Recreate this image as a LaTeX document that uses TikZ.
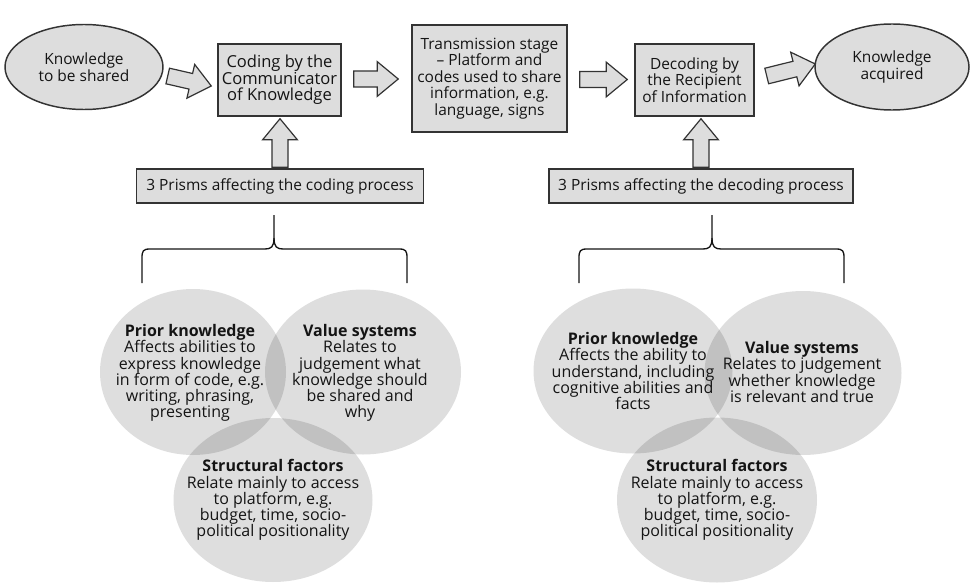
\documentclass[tikz,border=0pt]{standalone}
\usepackage{fontspec}
\setmainfont{Open Sans}
\usetikzlibrary{shapes.geometric,calc}
\definecolor{boxfill}{HTML}{DDDDDD}
\definecolor{edge}{HTML}{333333}
\definecolor{ink}{HTML}{141414}
\tikzset{
  txt/.style={font=\fontsize{11.6}{12.3}\selectfont, text=ink, align=center},
  stxt/.style={font=\fontsize{12}{12.1}\selectfont, text=ink, align=center, inner sep=0pt},
  boxnode/.style={txt, draw=edge, line width=1.1pt, fill=boxfill, rectangle, inner sep=2pt},
  ellnode/.style={txt, draw=edge, line width=1.1pt, fill=boxfill, ellipse, inner sep=0pt},
  venn/.style={ellipse, fill=black, fill opacity=0.13, draw=none, inner sep=0pt},
  barrow/.style={fill=boxfill, draw=edge, line width=0.9pt, line join=miter},
  bracepath/.style={draw=ink, line width=1pt}
}
\newcommand\blockarr[2]{%
  \coordinate (tmpc) at ($(#2)!15.75pt!(#1)$);
  \draw[barrow] ($(#1)!6pt!90:(#2)$) -- ($(tmpc)!6pt!90:(#2)$) -- ($(tmpc)!13pt!90:(#2)$) -- (#2)
    -- ($(tmpc)!13pt!-90:(#2)$) -- ($(tmpc)!6pt!-90:(#2)$) -- ($(#1)!6pt!-90:(#2)$) -- cycle;}
\begin{document}
\begin{tikzpicture}[x=0.75pt,y=-0.75pt]
\path[use as bounding box] (0,0) rectangle (970,585);

% top row
\node[ellnode, minimum width=118.5pt, minimum height=63.75pt] (k1) at (84,67) {Knowledge\\to be shared};
\node[boxnode, minimum width=92.25pt, minimum height=54pt, font=\fontsize{12.4}{12.4}\selectfont] (coding) at (279.5,80) {Coding by the\\Communicator\\of Knowledge};
\node[boxnode, minimum width=116.25pt, minimum height=80.25pt] (trans) at (489.5,78.5) {Transmission stage\\– Platform and\\codes used to share\\information, e.g.\\language, signs};
\node[boxnode, minimum width=89.25pt, minimum height=54pt] (decoding) at (694.5,80) {Decoding by\\the Recipient\\of Information};
\node[ellnode, minimum width=115.5pt, minimum height=64.5pt] (k2) at (892,67) {Knowledge\\acquired};

% prism boxes
\node[boxnode, minimum width=215.25pt, minimum height=25.5pt] (prism1) at (280,186) {3 Prisms affecting the coding process};
\node[boxnode, minimum width=228pt, minimum height=25.5pt] (prism2) at (701,186) {3 Prisms affecting the decoding process};

% arrow end points
\coordinate (a1s) at ($(k1.east)+(4,9)$);
\coordinate (a1e) at ($(coding.west)+(-6,6)$);
\coordinate (a2s) at ($(coding.east)+(12,-1)$);
\coordinate (a2e) at ($(trans.west |- a2s)+(-13,0)$);
\coordinate (a3s) at ($(trans.east)+(12,1)$);
\coordinate (a3e) at ($(decoding.west |- a3s)+(-7,0)$);
\coordinate (a4s) at ($(decoding.east)+(12,-4)$);
\coordinate (a4e) at ($(k2.west)+(1,-3)$);
\coordinate (u1s) at ($(prism1.north)+(0,-1)$);
\coordinate (u1e) at ($(u1s |- coding.south)+(0,2)$);
\coordinate (u2s) at ($(prism2.north)+(0,-1)$);
\coordinate (u2e) at ($(u2s |- decoding.south)+(0,2)$);

\blockarr{a1s}{a1e}
\blockarr{a2s}{a2e}
\blockarr{a3s}{a3e}
\blockarr{a4s}{a4e}
\blockarr{u1s}{u1e}
\blockarr{u2s}{u2e}

% braces
\coordinate (b1l) at (142,283);
\coordinate (b1t) at (274,215);
\coordinate (b1r) at (407,283);
\draw[bracepath] (b1l) -- (142,258) .. controls (142,251) and (143,249) .. (150,249) -- (265,249)
  .. controls (271,249) and (274,247) .. (274,238) -- (b1t);
\draw[bracepath] (b1r) -- (407,258) .. controls (407,251) and (406,249) .. (399,249) -- (283,249)
  .. controls (277,249) and (274,247) .. (274,238);
\coordinate (b2l) at (579,283);
\coordinate (b2t) at (712,215);
\coordinate (b2r) at (844,283);
\draw[bracepath] (b2l) -- (579,258) .. controls (579,251) and (580,249) .. (587,249) -- (703,249)
  .. controls (709,249) and (712,247) .. (712,238) -- (b2t);
\draw[bracepath] (b2r) -- (844,258) .. controls (844,251) and (843,249) .. (836,249) -- (721,249)
  .. controls (715,249) and (712,247) .. (712,238);

% left venn
\node[venn, minimum width=139.5pt, minimum height=124.5pt] (pk1) at (193,372) {};
\node[venn, minimum width=147pt, minimum height=123.75pt] (vs1) at (363,372) {};
\node[venn, minimum width=149.25pt, minimum height=123pt] (sf1) at (273,500) {};
\node[stxt] (pk1t) at (190,373) {\textbf{Prior knowledge}\\Affects abilities to\\express knowledge\\in form of code, e.g.\\writing, phrasing,\\presenting};
\node[stxt] (vs1t) at (360,373) {\textbf{Value systems}\\Relates to\\judgement what\\knowledge should\\be shared and\\why};
\node[stxt] (sf1t) at (273,500) {\textbf{Structural factors}\\Relate mainly to access\\to platform, e.g.\\budget, time, socio-\\political positionality};

% right venn
\node[venn, minimum width=149.25pt, minimum height=123.75pt] (pk2) at (633,371) {};
\node[venn, minimum width=147.75pt, minimum height=123pt] (vs2) at (803,373) {};
\node[venn, minimum width=150pt, minimum height=123.75pt] (sf2) at (717,500) {};
\node[stxt] (pk2t) at (633,371) {\textbf{Prior knowledge}\\Affects the ability to\\understand, including\\cognitive abilities and\\facts};
\node[stxt] (vs2t) at (802,372) {\textbf{Value systems}\\Relates to judgement\\whether knowledge\\is relevant and true};
\node[stxt] (sf2t) at (717,500) {\textbf{Structural factors}\\Relate mainly to access\\to platform, e.g.\\budget, time, socio-\\political positionality};
\end{tikzpicture}
\end{document}
